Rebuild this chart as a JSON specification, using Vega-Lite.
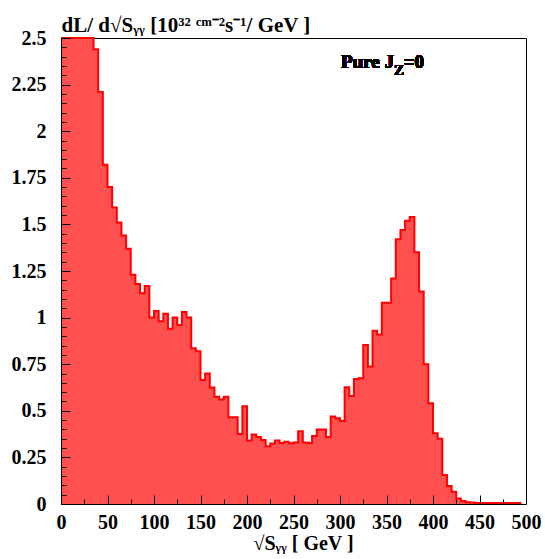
{
  "$schema": "https://vega.github.io/schema/vega-lite/v6.json",
  "width": 465,
  "height": 466,
  "autosize": {"type": "none"},
  "padding": {"left": 61, "top": 38, "right": 19, "bottom": 55},
  "background": "white",
  "config": {
    "view": {"stroke": "black", "strokeWidth": 1},
    "axis": {"grid": false, "domainColor": "black", "tickColor": "black", "tickWidth": 1, "domainWidth": 1}
  },
  "data": {
    "values": [
      {"e": 0, "v": 2.5}, {"e": 5, "v": 2.5}, {"e": 10, "v": 2.5}, {"e": 15, "v": 2.5}, {"e": 20, "v": 2.5},
      {"e": 25, "v": 2.5}, {"e": 30, "v": 2.5}, {"e": 35, "v": 2.44}, {"e": 40, "v": 2.21}, {"e": 45, "v": 1.82},
      {"e": 50, "v": 1.70}, {"e": 55, "v": 1.59}, {"e": 60, "v": 1.51}, {"e": 65, "v": 1.44}, {"e": 70, "v": 1.37},
      {"e": 75, "v": 1.23}, {"e": 80, "v": 1.18}, {"e": 85, "v": 1.13}, {"e": 90, "v": 1.17}, {"e": 95, "v": 1.00},
      {"e": 100, "v": 1.035}, {"e": 105, "v": 0.98}, {"e": 110, "v": 1.02}, {"e": 115, "v": 0.94}, {"e": 120, "v": 1.00},
      {"e": 125, "v": 0.96}, {"e": 130, "v": 1.03}, {"e": 135, "v": 1.00}, {"e": 140, "v": 0.835}, {"e": 145, "v": 0.82},
      {"e": 150, "v": 0.665}, {"e": 155, "v": 0.70}, {"e": 160, "v": 0.625}, {"e": 165, "v": 0.575}, {"e": 170, "v": 0.56},
      {"e": 175, "v": 0.575}, {"e": 180, "v": 0.465}, {"e": 185, "v": 0.465}, {"e": 190, "v": 0.375}, {"e": 195, "v": 0.525},
      {"e": 200, "v": 0.34}, {"e": 205, "v": 0.373}, {"e": 210, "v": 0.36}, {"e": 215, "v": 0.343}, {"e": 220, "v": 0.31},
      {"e": 225, "v": 0.325}, {"e": 230, "v": 0.34}, {"e": 235, "v": 0.327}, {"e": 240, "v": 0.334}, {"e": 245, "v": 0.326},
      {"e": 250, "v": 0.33}, {"e": 255, "v": 0.39}, {"e": 260, "v": 0.33}, {"e": 265, "v": 0.327}, {"e": 270, "v": 0.365},
      {"e": 275, "v": 0.40}, {"e": 280, "v": 0.40}, {"e": 285, "v": 0.36}, {"e": 290, "v": 0.47}, {"e": 295, "v": 0.46},
      {"e": 300, "v": 0.445}, {"e": 305, "v": 0.626}, {"e": 310, "v": 0.58}, {"e": 315, "v": 0.67}, {"e": 320, "v": 0.675},
      {"e": 325, "v": 0.853}, {"e": 330, "v": 0.737}, {"e": 335, "v": 0.93}, {"e": 340, "v": 0.91}, {"e": 345, "v": 1.08},
      {"e": 350, "v": 1.08}, {"e": 355, "v": 1.21}, {"e": 360, "v": 1.42}, {"e": 365, "v": 1.47}, {"e": 370, "v": 1.52},
      {"e": 375, "v": 1.54}, {"e": 380, "v": 1.35}, {"e": 385, "v": 1.14}, {"e": 390, "v": 0.75}, {"e": 395, "v": 0.54},
      {"e": 400, "v": 0.38}, {"e": 405, "v": 0.35}, {"e": 410, "v": 0.155}, {"e": 415, "v": 0.097}, {"e": 420, "v": 0.066},
      {"e": 425, "v": 0.03}, {"e": 430, "v": 0.016}, {"e": 435, "v": 0.01}, {"e": 440, "v": 0.008}, {"e": 445, "v": 0.005},
      {"e": 450, "v": 0.005}, {"e": 455, "v": 0.005}, {"e": 460, "v": 0.005}, {"e": 465, "v": 0.005}, {"e": 470, "v": 0.005},
      {"e": 475, "v": 0.005}, {"e": 480, "v": 0.005}, {"e": 485, "v": 0.005}, {"e": 490, "v": 0.005}, {"e": 495, "v": 0.005}
    ]
  },
  "layer": [
    {
      "mark": {"type": "area", "interpolate": "step-after", "fill": "#ff5050", "stroke": null},
      "encoding": {
        "x": {
          "field": "e", "type": "quantitative",
          "scale": {"domain": [0, 500], "nice": false, "zero": false},
          "axis": {
            "orient": "bottom", "zindex": 1,
            "values": [0, 50, 100, 150, 200, 250, 300, 350, 400, 450, 500],
            "tickSize": -9, "labelPadding": 17, "labelFlush": false, "labelOverlap": false,
            "labelFont": "Liberation Serif", "labelFontWeight": "bold", "labelFontSize": 20, "labelColor": "black",
            "title": "√Sᵧᵧ [ GeV ]", "titleX": 242, "titleY": 45, "titleAlign": "center", "titleBaseline": "alphabetic",
            "titleFont": "Liberation Serif", "titleFontWeight": "bold", "titleFontSize": 20, "titleColor": "black"
          }
        },
        "y": {
          "field": "v", "type": "quantitative",
          "scale": {"domain": [0, 2.5], "nice": false},
          "axis": {
            "orient": "left", "zindex": 1,
            "values": [0, 0.25, 0.5, 0.75, 1, 1.25, 1.5, 1.75, 2, 2.25, 2.5],
            "labelExpr": "'' + datum.value",
            "tickSize": -9, "labelPadding": 24, "labelFlush": false, "labelOverlap": false, "labelBaseline": "middle",
            "labelFont": "Liberation Serif", "labelFontWeight": "bold", "labelFontSize": 20, "labelColor": "black",
            "title": "dL/ d√Sᵧᵧ [10³² ᶜᵐ⁻²s⁻¹/ GeV ]", "titleAngle": 0, "titleX": 0, "titleY": -7,
            "titleAlign": "left", "titleBaseline": "alphabetic",
            "titleFont": "Liberation Serif", "titleFontWeight": "bold", "titleFontSize": 21, "titleColor": "black"
          }
        }
      }
    },
    {
      "mark": {"type": "line", "interpolate": "step-after", "stroke": "#ff0000", "strokeWidth": 2},
      "encoding": {
        "x": {
          "field": "e", "type": "quantitative",
          "scale": {"domain": [0, 500], "nice": false, "zero": false},
          "axis": {
            "orient": "bottom", "zindex": 1, "domain": false, "labels": false, "title": null,
            "values": [25, 75, 125, 175, 225, 275, 325, 375, 425, 475],
            "tickSize": -5
          }
        },
        "y": {
          "field": "v", "type": "quantitative",
          "scale": {"domain": [0, 2.5], "nice": false},
          "axis": {
            "orient": "left", "zindex": 1, "domain": false, "labels": false, "title": null,
            "values": [0.05, 0.1, 0.15, 0.2, 0.3, 0.35, 0.4, 0.45, 0.55, 0.6, 0.65, 0.7, 0.8, 0.85, 0.9, 0.95, 1.05, 1.1, 1.15, 1.2, 1.3, 1.35, 1.4, 1.45, 1.55, 1.6, 1.65, 1.7, 1.8, 1.85, 1.9, 1.95, 2.05, 2.1, 2.15, 2.2, 2.3, 2.35, 2.4, 2.45],
            "tickSize": -5
          }
        }
      }
    },
    {
      "mark": {"type": "text", "align": "right", "baseline": "alphabetic", "font": "Liberation Serif", "fontWeight": "bold", "fontSize": 19, "fill": "black", "stroke": null},
      "encoding": {
        "x": {"datum": 358, "type": "quantitative", "axis": null},
        "y": {"datum": 2.337, "type": "quantitative", "axis": null},
        "text": {"value": "Pure J"}
      }
    },
    {
      "mark": {"type": "text", "align": "left", "baseline": "alphabetic", "dy": 7, "font": "Liberation Serif", "fontWeight": "bold", "fontSize": 15, "fill": "black", "stroke": null},
      "encoding": {
        "x": {"datum": 358, "type": "quantitative", "axis": null},
        "y": {"datum": 2.337, "type": "quantitative", "axis": null},
        "text": {"value": "Z"}
      }
    },
    {
      "mark": {"type": "text", "align": "left", "baseline": "alphabetic", "font": "Liberation Serif", "fontWeight": "bold", "fontSize": 19, "fill": "black", "stroke": null},
      "encoding": {
        "x": {"datum": 368.5, "type": "quantitative", "axis": null},
        "y": {"datum": 2.337, "type": "quantitative", "axis": null},
        "text": {"value": "=0"}
      }
    }
  ],
  "resolve": {"axis": {"x": "independent", "y": "independent"}}
}
